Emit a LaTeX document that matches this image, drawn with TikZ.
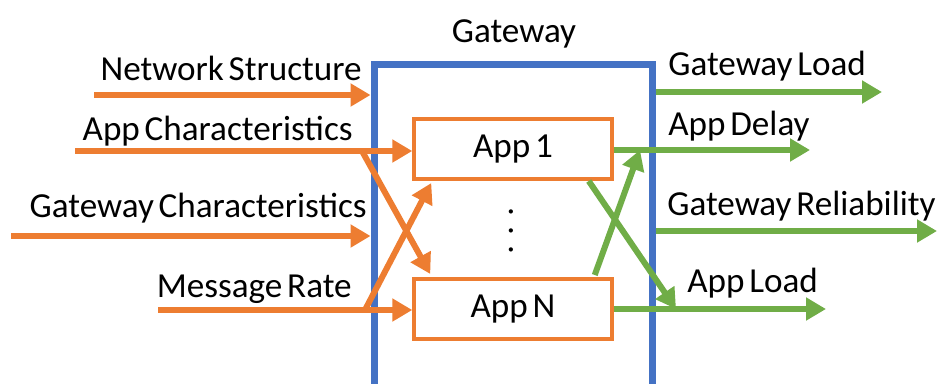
\documentclass[tikz,border=0pt]{standalone}
\usepackage{fontspec}
\setmainfont[WordSpace=0.6]{Carlito}
\usepackage{tikz}
\usetikzlibrary{positioning,arrows.meta}

\definecolor{gwblue}{HTML}{4472C4}
\definecolor{inorange}{HTML}{ED7D31}
\definecolor{outgreen}{HTML}{70AD47}

\begin{document}
\begin{tikzpicture}[x=0.02cm,y=-0.02cm,
		font=\fontsize{20}{22}\selectfont,
		inarrow/.style={draw=inorange,line width=0.12cm,-{Triangle[length=0.4cm,width=0.44cm]}},
		outarrow/.style={inarrow,draw=outgreen},
		appbox/.style={draw=inorange,line width=0.08cm,minimum width=3.95cm,minimum height=1.2cm},
		lbl/.style={inner sep=0pt}]
		\useasboundingbox (0,0) rectangle (943,383);
		\clip (0,0) rectangle (943,383);
		
		% gateway and apps
		\node (gw)    [draw=gwblue,line width=0.14cm,minimum width=5.58cm,minimum height=7.2cm] at (513.5,244) {};
		\node (app1)  [appbox] at (513,149) {App 1};
		\node (appN)  [appbox] at (513,309) {App N};
		\node (dots)  [lbl,rotate=-90] at (511,231) {.\hspace{0.21cm}.\hspace{0.21cm}.};
		\node (title) [lbl,anchor=base] at (514,42) {Gateway};
		
		% inputs
		\node (ns) [lbl,anchor=base east] at (362,80)  {Network Structure};
		\node (ac) [lbl,anchor=base east] at (353,140) {App Characteristics};
		\node (gc) [lbl,anchor=base east] at (367,217) {Gateway Characteristics};
		\node (mr) [lbl,anchor=base east] at (352,297) {Message Rate};
		
		% outputs
		\node (gl) [lbl,anchor=base west] at (668,75)  {Gateway Load};
		\node (ad) [lbl,anchor=base west] at (668,135) {App Delay};
		\node (gr) [lbl,anchor=base west] at (667,215) {Gateway Reliability};
		\node (al) [lbl,anchor=base west] at (687,292) {App Load};
		
		\coordinate (ns-in)  at (94,95);
		\coordinate (ac-in)  at (75,151);
		\coordinate (gc-in)  at (11,236);
		\coordinate (mr-in)  at (158,310);
		\coordinate (ac-x)   at (362,151);
		\coordinate (mr-x)   at (365,310);
		\coordinate (gl-out) at (882,92);
		\coordinate (ad-out) at (810,150);
		\coordinate (gr-out) at (937,231);
		\coordinate (al-out) at (826,309);
		\coordinate (ad-x)   at (640,150);
		\coordinate (al-x)   at (676,309);
		
		\draw[inarrow] (ns-in) -- (gw.west |- ns-in);
		\draw[inarrow] (ac-in) -- (app1.west |- ac-in);
		\draw[inarrow] (gc-in) -- (gw.west |- gc-in);
		\draw[inarrow] (mr-in) -- (appN.west |- mr-in);
		\draw[inarrow] (ac-x) -- ([shift={(18,-3)}]appN.north west);
		\draw[inarrow] (mr-x) -- ([shift={(19,2)}]app1.south west);
		
		\draw[outarrow] (gw.east |- gl-out) -- (gl-out);
		\draw[outarrow] (app1.east |- ad-out) -- (ad-out);
		\draw[outarrow] (gw.east |- gr-out) -- (gr-out);
		\draw[outarrow] (appN.east |- al-out) -- (al-out);
		\draw[outarrow] ([shift={(-19,-2)}]appN.north east) -- (ad-x);
		\draw[outarrow] ([shift={(-25,0)}]app1.south east) -- (al-x);
	\end{tikzpicture}
\end{document}
